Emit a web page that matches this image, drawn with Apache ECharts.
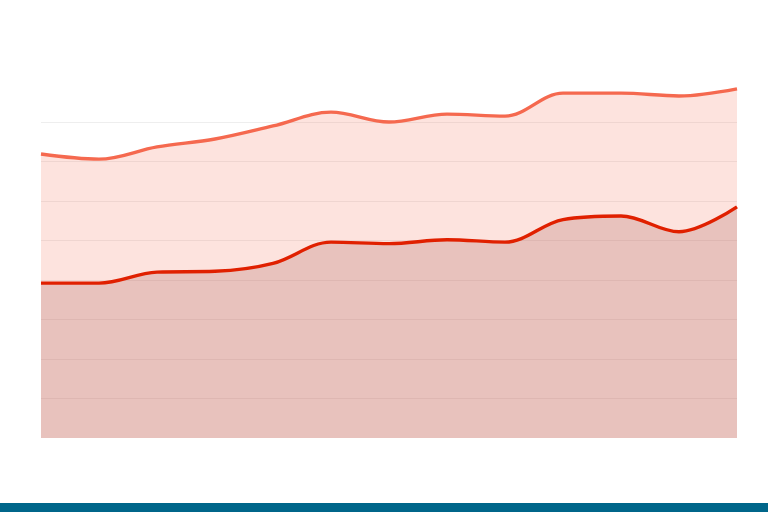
<!DOCTYPE html>
<html>
<head>
<meta charset="utf-8">
<script src="https://cdn.jsdelivr.net/npm/echarts@6/dist/echarts.min.js"></script>
<style>html,body{margin:0;padding:0;background:#fff}#c{width:768px;height:512px}</style>
</head>
<body>
<div id="c"></div>
<script>
const categories = ['1','2','3','4','5','6','7','8','9','10','11','12','13'];
// values: 10 units per gridline, 0 at chart bottom
const upperValues = [71.9, 70.6, 73.7, 75.7, 79.0, 82.5, 80.0, 82.0, 81.5, 87.3, 87.3, 86.6, 88.4];
const lowerValues = [39.2, 39.2, 42.0, 42.2, 44.2, 49.6, 49.2, 50.2, 49.6, 55.3, 56.2, 52.2, 58.5];

const chart = echarts.init(document.getElementById('c'), null, {renderer: 'canvas'});
chart.setOption({
  animation: false,
  backgroundColor: '#ffffff',
  grid: {left: 41, right: 31, top: 82.5, bottom: 74},
  xAxis: {
    type: 'category', data: categories, boundaryGap: false,
    axisLine: {show: false}, axisTick: {show: false}, axisLabel: {show: false}
  },
  yAxis: {
    type: 'value', min: 0, max: 90, interval: 10,
    axisLine: {show: false}, axisTick: {show: false}, axisLabel: {show: false},
    splitLine: {show: true, showMaxLine: false, showMinLine: false, lineStyle: {color: '#eeeeee', width: 1}}
  },
  series: [
    {
      type: 'line', data: upperValues, smooth: 0.35, symbol: 'none',
      lineStyle: {color: '#F5694F', width: 3.4},
      areaStyle: {color: 'rgba(246,112,88,0.28)', origin: 'start'},
      z: 2
    },
    {
      type: 'line', data: lowerValues, smooth: 0.35, symbol: 'none',
      lineStyle: {color: '#E02000', width: 3.4},
      areaStyle: {color: 'rgba(170,90,85,0.35)', origin: 'start'},
      z: 3
    }
  ],
  graphic: [
    {type: 'rect', left: 0, top: 503, shape: {width: 768, height: 9}, style: {fill: '#00668A'}, z: 10}
  ]
});
</script>
</body>
</html>
